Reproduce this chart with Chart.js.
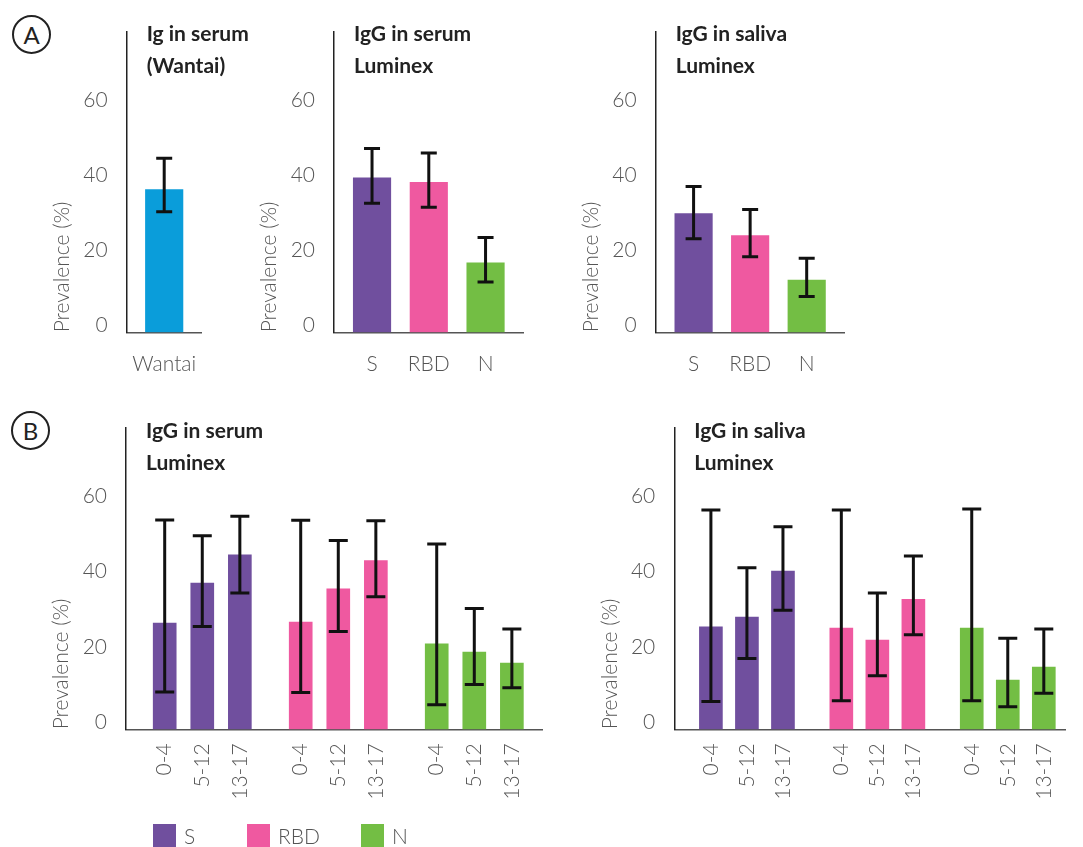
<!DOCTYPE html>
<html>
<head>
<meta charset="utf-8">
<script src="https://cdn.jsdelivr.net/npm/chart.js@4.4.1/dist/chart.umd.min.js"></script>
<style>
  html, body { margin: 0; padding: 0; background: #fff; }
  body { width: 1083px; height: 847px; position: relative; overflow: hidden; font-family: Lato, "Open Sans", sans-serif; }
  canvas.panel { position: absolute; left: 0; top: 0; }
  .tag { position: absolute; width: 39px; height: 39px; box-sizing: border-box; border: 2px solid #222; border-radius: 50%;
         font: 400 24px Lato, sans-serif; color: #222; display: flex; align-items: center; justify-content: center; }
  .legend { position: absolute; top: 824px; height: 23px; display: flex; align-items: center; font: 300 21px Lato, sans-serif; color: #555; }
  .legend span.box { display: inline-block; width: 23px; height: 23px; margin-right: 8px; }
</style>
</head>
<body>
<div class="tag" style="left:12px; top:15px;">A</div>
<div class="tag" style="left:11px; top:411px;">B</div>
<canvas class="panel" id="a1" width="1083" height="847"></canvas>
<canvas class="panel" id="a2" width="1083" height="847"></canvas>
<canvas class="panel" id="a3" width="1083" height="847"></canvas>
<canvas class="panel" id="b1" width="1083" height="847"></canvas>
<canvas class="panel" id="b2" width="1083" height="847"></canvas>
<div id="legend"></div>
<script>
// ---- data ----
const antigens = ['S', 'RBD', 'N'];
const antigenColors = ['#704F9E', '#EF59A0', '#73BE44'];
const ageGroups = ['0-4', '5-12', '13-17'];
const yTicks = [0, 20, 40, 60];

// A: Ig in serum (Wantai)
const wantaiLabels = ['Wantai'];
const wantaiValue = [38.0];
const wantaiLow = [32.1];
const wantaiHigh = [46.3];

// A: IgG in serum, Luminex
const serumValue = [41.1, 39.9, 18.5];
const serumLow = [34.3, 33.3, 13.4];
const serumHigh = [48.9, 47.7, 25.2];

// A: IgG in saliva, Luminex
const salivaValue = [31.6, 25.7, 13.9];
const salivaLow = [24.9, 20.1, 9.5];
const salivaHigh = [38.8, 32.7, 19.7];

// B: IgG in serum by age group (Luminex)
const serumAgeS = [28.2, 38.8, 46.3];
const serumAgeSLow = [9.9, 27.3, 36.2];
const serumAgeSHigh = [55.6, 51.4, 56.6];
const serumAgeRBD = [28.5, 37.3, 44.8];
const serumAgeRBDLow = [9.8, 26.0, 35.2];
const serumAgeRBDHigh = [55.5, 50.1, 55.4];
const serumAgeN = [22.7, 20.5, 17.6];
const serumAgeNLow = [6.5, 11.9, 11.0];
const serumAgeNHigh = [49.2, 32.1, 26.6];

// B: IgG in saliva by age group (Luminex)
const salivaAgeS = [27.2, 29.8, 42.0];
const salivaAgeSLow = [7.4, 18.8, 31.6];
const salivaAgeSHigh = [58.2, 42.9, 53.8];
const salivaAgeRBD = [26.9, 23.7, 34.5];
const salivaAgeRBDLow = [7.6, 14.2, 25.1];
const salivaAgeRBDHigh = [58.2, 36.2, 46.0];
const salivaAgeN = [26.9, 13.1, 16.5];
const salivaAgeNLow = [7.6, 6.0, 9.6];
const salivaAgeNHigh = [58.5, 24.2, 26.6];

// ---- drawing helpers ----
const FONT = 'Lato, "Open Sans", sans-serif';
const W = 1083, H = 847;

// error bars drawn from each dataset's errLow / errHigh through the y scale
const errorBarPlugin = {
  id: 'errorBars',
  afterDatasetsDraw(chart, args, opts) {
    const { ctx, scales: { y } } = chart;
    ctx.save();
    ctx.strokeStyle = '#111';
    ctx.lineWidth = 3;
    ctx.lineCap = 'butt';
    chart.data.datasets.forEach((ds, di) => {
      const meta = chart.getDatasetMeta(di);
      meta.data.forEach((bar, i) => {
        const x = bar.x;
        const yl = y.getPixelForValue(ds.errLow[i]);
        const yh = y.getPixelForValue(ds.errHigh[i]);
        const hw = opts.capWidth / 2;
        ctx.beginPath();
        ctx.moveTo(x, yl); ctx.lineTo(x, yh);
        ctx.moveTo(x - hw, yh); ctx.lineTo(x + hw, yh);
        ctx.moveTo(x - hw, yl); ctx.lineTo(x + hw, yl);
        ctx.stroke();
      });
    });
    ctx.restore();
  }
};

// bold two-line panel heading placed inside the plot area, right of the y axis
const headingPlugin = {
  id: 'heading',
  afterDraw(chart, args, opts) {
    const { ctx, chartArea } = chart;
    ctx.save();
    ctx.fillStyle = '#222';
    ctx.font = '700 21px ' + FONT;
    ctx.textAlign = 'left';
    ctx.textBaseline = 'middle';
    opts.lines.forEach((t, i) => ctx.fillText(t, chartArea.left + 20, chartArea.top + 3 + i * 32));
    ctx.restore();
  }
};

function makePanel(id, area, cfg) {
  const yAxisWidth = 77;
  const xAxisHeight = cfg.xAxisHeight;
  return new Chart(document.getElementById(id), {
    type: 'bar',
    data: {
      datasets: [{
        data: cfg.positions.map((p, i) => ({ x: p, y: cfg.values[i] })),
        errLow: cfg.low,
        errHigh: cfg.high,
        backgroundColor: cfg.colors,
        barThickness: cfg.barWidth,
        borderWidth: 0
      }]
    },
    options: {
      responsive: false,
      animation: false,
      events: [],
      layout: {
        padding: {
          left: area.left - yAxisWidth,
          top: area.top,
          right: W - area.right,
          bottom: H - area.bottom - xAxisHeight
        }
      },
      plugins: {
        legend: { display: false },
        tooltip: { enabled: false },
        heading: { lines: cfg.heading },
        errorBars: { capWidth: cfg.capWidth }
      },
      scales: {
        x: {
          type: 'linear',
          offset: false,
          min: cfg.xMin,
          max: cfg.xMax,
          afterBuildTicks: s => { s.ticks = cfg.positions.map(p => ({ value: p })); },
          afterFit: s => { s.height = xAxisHeight; },
          grid: { display: false, drawTicks: false },
          border: { display: true, color: '#555', width: 1.5 },
          ticks: {
            autoSkip: false,
            maxRotation: cfg.rotate ? 90 : 0,
            minRotation: cfg.rotate ? 90 : 0,
            padding: cfg.rotate ? 14 : 19,
            color: '#555',
            font: { family: FONT, size: 21, weight: 300 },
            callback: (v) => {
              const i = cfg.positions.indexOf(v);
              return i >= 0 ? cfg.labels[i] : null;
            }
          }
        },
        y: {
          min: 0,
          max: 80,
          afterBuildTicks: s => { s.ticks = yTicks.map(v => ({ value: v })); },
          afterFit: s => { s.width = yAxisWidth; },
          grid: { display: false, drawTicks: false },
          border: { display: true, color: '#222', width: 1.5 },
          ticks: {
            padding: 19,
            labelOffset: -7,
            color: '#555',
            font: { family: FONT, size: 21, weight: 300 }
          },
          title: {
            display: true,
            text: 'Prevalence (%)',
            align: 'start',
            color: '#555',
            padding: 0,
            font: { family: FONT, size: 21, weight: 300 }
          }
        }
      }
    },
    plugins: [errorBarPlugin, headingPlugin]
  });
}

// positions of the three antigens in the top row
const abPositions = antigens.map((_, i) => i);
// age-group bars: three bars per antigen, groups separated by a gap
const groupGap = 0.62;
const agePositions = [];
const ageLabels = [];
const ageColors = [];
antigens.forEach((a, g) => ageGroups.forEach((ag, k) => {
  agePositions.push(g * (ageGroups.length + groupGap) + k);
  ageLabels.push(ag);
  ageColors.push(antigenColors[g]);
}));

document.fonts.ready.then(() => {
  makePanel('a1', { left: 126.7, top: 30.5, right: 201.7, bottom: 332.3 }, {
    heading: ['Ig in serum', '(Wantai)'],
    positions: [0], labels: wantaiLabels,
    values: wantaiValue, low: wantaiLow, high: wantaiHigh,
    colors: ['#0A9DDA'], barWidth: 37.5, capWidth: 16,
    xMin: -0.5, xMax: 0.5, xAxisHeight: 60, rotate: false
  });
  makePanel('a2', { left: 334, top: 30.5, right: 523.3, bottom: 332.3 }, {
    heading: ['IgG in serum', 'Luminex'],
    positions: abPositions, labels: antigens,
    values: serumValue, low: serumLow, high: serumHigh,
    colors: antigenColors, barWidth: 37.5, capWidth: 16,
    xMin: -0.67, xMax: 2.665, xAxisHeight: 60, rotate: false
  });
  makePanel('a3', { left: 655.7, top: 30.5, right: 844.3, bottom: 332.3 }, {
    heading: ['IgG in saliva', 'Luminex'],
    positions: abPositions, labels: antigens,
    values: salivaValue, low: salivaLow, high: salivaHigh,
    colors: antigenColors, barWidth: 37.5, capWidth: 16,
    xMin: -0.67, xMax: 2.665, xAxisHeight: 60, rotate: false
  });
  makePanel('b1', { left: 126, top: 428, right: 542.3, bottom: 729.3 }, {
    heading: ['IgG in serum', 'Luminex'],
    positions: agePositions, labels: ageLabels,
    values: [...serumAgeS, ...serumAgeRBD, ...serumAgeN],
    low: [...serumAgeSLow, ...serumAgeRBDLow, ...serumAgeNLow],
    high: [...serumAgeSHigh, ...serumAgeRBDHigh, ...serumAgeNHigh],
    colors: ageColors, barWidth: 23, capWidth: 19,
    xMin: -1.03, xMax: 10.05, xAxisHeight: 80, rotate: true
  });
  makePanel('b2', { left: 674.3, top: 428, right: 1083, bottom: 729.3 }, {
    heading: ['IgG in saliva', 'Luminex'],
    positions: agePositions, labels: ageLabels,
    values: [...salivaAgeS, ...salivaAgeRBD, ...salivaAgeN],
    low: [...salivaAgeSLow, ...salivaAgeRBDLow, ...salivaAgeNLow],
    high: [...salivaAgeSHigh, ...salivaAgeRBDHigh, ...salivaAgeNHigh],
    colors: ageColors, barWidth: 23, capWidth: 19,
    xMin: -1.016, xMax: 9.85, xAxisHeight: 80, rotate: true
  });

  // antigen colour key under the age-group panels
  const legendLeft = [153, 247, 361];
  const legend = document.getElementById('legend');
  antigens.forEach((a, i) => {
    const item = document.createElement('div');
    item.className = 'legend';
    item.style.left = legendLeft[i] + 'px';
    item.innerHTML = '<span class="box" style="background:' + antigenColors[i] + '"></span>' + a;
    legend.appendChild(item);
  });
});
</script>
</body>
</html>
